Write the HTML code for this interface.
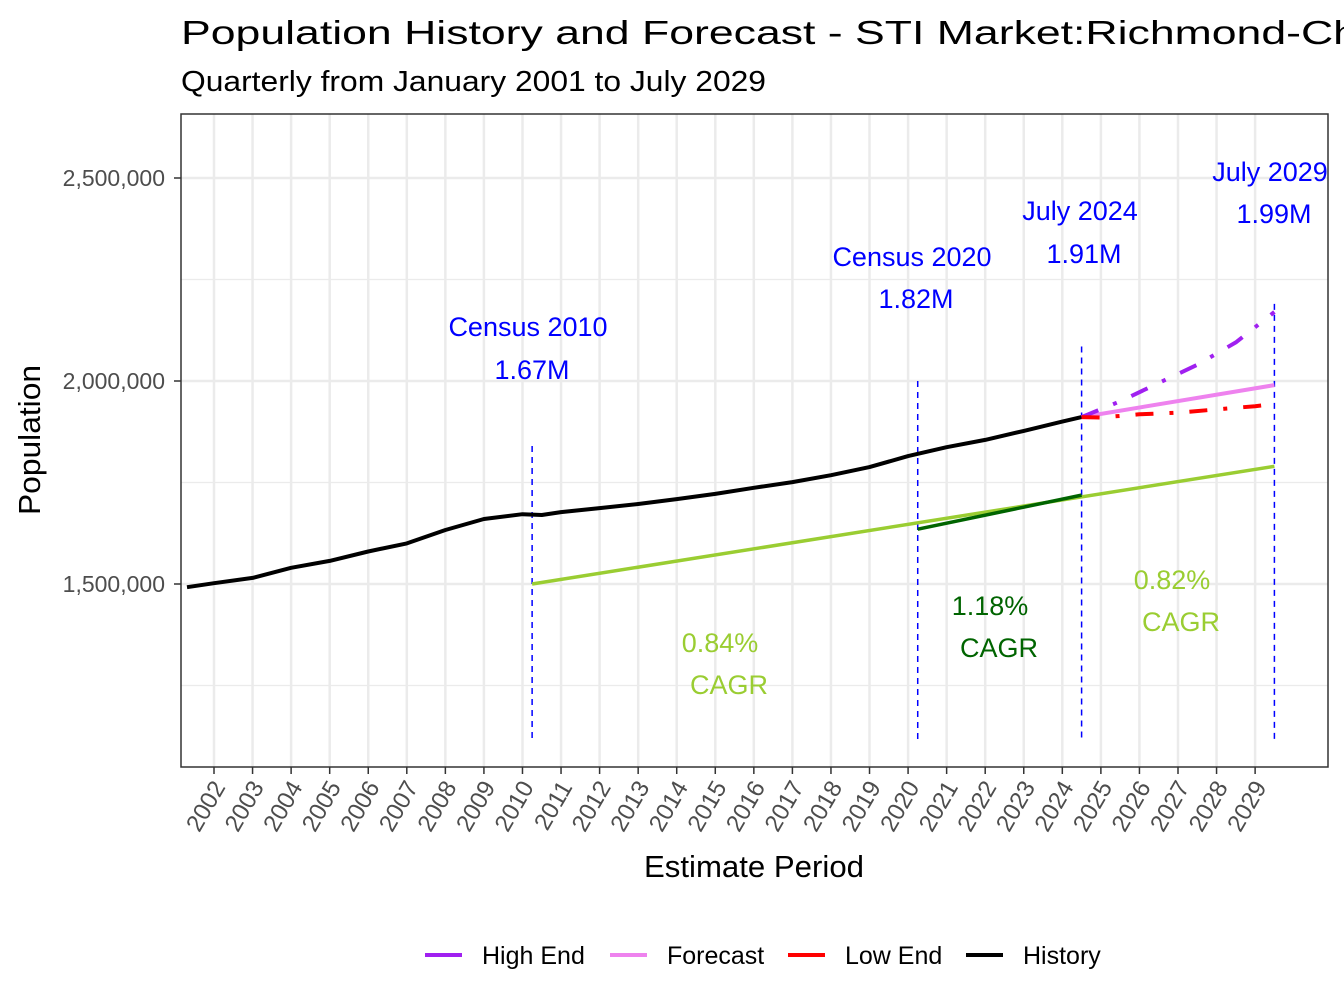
<!DOCTYPE html>
<html><head><meta charset="utf-8"><style>
body{margin:0;background:#fff}
svg{display:block;font-family:"Liberation Sans",Arial,sans-serif}
</style></head><body>
<svg id="chart" width="1344" height="1008" viewBox="0 0 1344 1008">
<text x="181" y="44" font-size="33" textLength="1400" lengthAdjust="spacingAndGlyphs">Population History and Forecast - STI Market:Richmond-Charlottesville</text>
<text x="181" y="91" font-size="29" textLength="585" lengthAdjust="spacingAndGlyphs">Quarterly from January 2001 to July 2029</text>
<g id="grid"></g>
<g id="ann"></g>
<g id="series"></g>
<rect x="181" y="114" width="1147" height="653" fill="none" stroke="#333" stroke-width="1.5"/>
<g id="axes"></g>
<text x="754" y="877" font-size="31" text-anchor="middle" textLength="220" lengthAdjust="spacingAndGlyphs">Estimate Period</text>
<text transform="translate(40,440) rotate(-90)" font-size="31" text-anchor="middle" textLength="150" lengthAdjust="spacingAndGlyphs">Population</text>
<g font-size="25">
<g><line x1="425" y1="955" x2="462" y2="955" stroke="#a020f0" stroke-width="4"/><text x="482" y="964">High End</text></g>
<g><line x1="610" y1="955" x2="647" y2="955" stroke="#ee82ee" stroke-width="4"/><text x="667" y="964">Forecast</text></g>
<g><line x1="788" y1="955" x2="825" y2="955" stroke="#ff0000" stroke-width="4"/><text x="845" y="964">Low End</text></g>
<g><line x1="966" y1="955" x2="1003" y2="955" stroke="#000" stroke-width="4"/><text x="1023" y="964">History</text></g>
</g>
</svg>
<script>
const histX=[2001.3,2002,2003,2004,2005,2006,2007,2008,2009,2010,2010.5,2011,2012,2013,2014,2015,2016,2017,2018,2019,2020,2021,2022,2023,2024,2024.5];
const histY=[1492000,1502000,1515000,1540000,1557000,1580000,1600000,1633000,1660000,1672000,1670000,1677000,1687000,1697000,1709000,1722000,1737000,1751000,1768000,1788000,1815000,1837000,1855000,1877000,1900000,1911000];
const fcX=[2024.5,2029.5];
const fcY=[1911000,1990000];
const highX=[2024.5,2025.5,2026.5,2027.5,2028.5,2029.5];
const highY=[1911000,1950000,1995000,2040000,2095000,2170000];
const lowX=[2024.5,2025,2026,2027,2028,2029,2029.5];
const lowY=[1911000,1910000,1918000,1922000,1930000,1938000,1943000];
const cagrX=[2010.25,2029.5];
const cagrY=[1500000,1790000];
const cagrMidX=[2020.25,2024.5];
const cagrMidY=[1635000,1719000];
const years=[2002,2003,2004,2005,2006,2007,2008,2009,2010,2011,2012,2013,2014,2015,2016,2017,2018,2019,2020,2021,2022,2023,2024,2025,2026,2027,2028,2029];
const yTicks=[1500000,2000000,2500000];
const yTickLabels=["1,500,000","2,000,000","2,500,000"];
const yMinor=[1250000,1750000,2250000];
const markers=[{x:2010.25,top:1840000,label:"Census 2010",val:"1.67M",lx:528,ly1:327,ly2:370},
{x:2020.25,top:2000000,label:"Census 2020",val:"1.82M",lx:912,ly1:257,ly2:299},
{x:2024.5,top:2085000,label:"July 2024",val:"1.91M",lx:1080,ly1:211,ly2:254},
{x:2029.5,top:2190000,label:"July 2029",val:"1.99M",lx:1270,ly1:172,ly2:214}];
const cagrLabels=[{pct:"0.84%",c:"#9acd32",x:720,y:643},{pct:"1.18%",c:"#006400",x:990,y:606},{pct:"0.82%",c:"#9acd32",x:1172,y:580}];

const X=t=>214+(t-2002)*38.56;
const Y=v=>584-(v-1500000)*203/500000;
const NS="http://www.w3.org/2000/svg";
function mk(tag,attrs,parent){const e=document.createElementNS(NS,tag);for(const k in attrs)e.setAttribute(k,attrs[k]);parent.appendChild(e);return e;}
const grid=document.getElementById('grid'),axes=document.getElementById('axes'),ser=document.getElementById('series'),ann=document.getElementById('ann');
years.forEach(y=>{
 let l=mk('line',{x1:X(y),x2:X(y),y1:114,y2:767,stroke:'#ebebeb','stroke-width':2.5},grid);
 
 
 let t=mk('line',{x1:X(y),x2:X(y),y1:767,y2:774,stroke:'#333','stroke-width':1.5},axes);
 
 
 let tx=mk('text',{transform:`translate(${X(y)+12},${787}) rotate(-60)`,'text-anchor':'end','font-size':24,fill:'#4d4d4d'},axes);
 tx.textContent=y;
 
 
});
yMinor.forEach(v=>{let l=mk('line',{x1:181,x2:1328,y1:Y(v),y2:Y(v),stroke:'#ebebeb','stroke-width':1.2},grid);
 
 });
yTicks.forEach((v,i)=>{
 let l=mk('line',{x1:181,x2:1328,y1:Y(v),y2:Y(v),stroke:'#ebebeb','stroke-width':2.5},grid);
 
 
 let t=mk('line',{x1:174,x2:181,y1:Y(v),y2:Y(v),stroke:'#333','stroke-width':1.5},axes);
 
 
 let tx=mk('text',{x:165,y:Y(v)+8,'text-anchor':'end','font-size':23,fill:'#4d4d4d'},axes);
 tx.textContent=yTickLabels[i];
 
 
});
function path(xs,ys,stroke,extra,name){
 const d=xs.map((x,i)=>(i?'L':'M')+X(x).toFixed(1)+','+Y(ys[i]).toFixed(1)).join('');
 const p=mk('path',Object.assign({d:d,fill:'none',stroke:stroke,'stroke-width':4,'stroke-linejoin':'round'},extra||{}),ser);
 
 
}
path(cagrX,cagrY,'#9acd32',{'stroke-width':3.5},'cagr-line');
path(cagrMidX,cagrMidY,'#006400',{'stroke-width':3.5},'cagr-2020-2024-line');
path(histX,histY,'#000',{},'history-line');
path(fcX,fcY,'#ee82ee',{},'forecast-line');
path(highX,highY,'#a020f0',{'stroke-dasharray':'18 16 4 16'},'high-end-line');
path(lowX,lowY,'#ff0000',{'stroke-dasharray':'18 16 4 16'},'low-end-line');
markers.forEach(m=>{
 let l=mk('line',{x1:X(m.x),x2:X(m.x),y1:Y(m.top),y2:740,stroke:'#0000ff','stroke-width':1.5,'stroke-dasharray':'6 5'},ann);
 
 
 let t1=mk('text',{x:m.lx,y:m.ly1+9,'text-anchor':'middle','font-size':27,fill:'#0000ff'},ann);
 t1.textContent=m.label;
 
 
 let t2=mk('text',{x:m.lx+4,y:m.ly2+9,'text-anchor':'middle','font-size':27,fill:'#0000ff'},ann);
 t2.textContent=m.val;
 
 
});
cagrLabels.forEach(c=>{
 let t1=mk('text',{x:c.x,y:c.y+9,'text-anchor':'middle','font-size':27,fill:c.c},ann);
 t1.textContent=c.pct;
 
 
 let t2=mk('text',{x:c.x+9,y:c.y+51,'text-anchor':'middle','font-size':27,fill:c.c},ann);
 t2.textContent='CAGR';
 
 
});
</script>
</body></html>
